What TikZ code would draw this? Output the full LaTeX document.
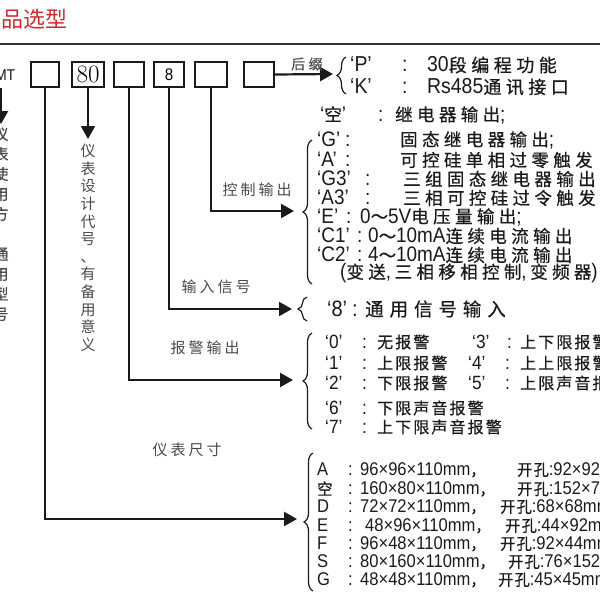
\documentclass[tikz,border=0pt]{standalone}
\usepackage{fontspec}
\usetikzlibrary{arrows.meta,decorations.pathreplacing}
\newfontfamily\cjkA[LetterSpace=25,FakeBold=0.6]{Noto Sans CJK SC}
\newfontfamily\cjkW[LetterSpace=32,FakeBold=0.6]{Noto Sans CJK SC}
\newfontfamily\cjkM[LetterSpace=13,FakeBold=0.5]{Noto Sans CJK SC}
\newfontfamily\cjkL[LetterSpace=20]{Noto Sans CJK SC}
\newfontfamily\cjkB{Noto Sans CJK SC}
\newfontfamily\cjkN[FakeStretch=0.95,LetterSpace=8,FakeBold=0.4]{Noto Sans CJK SC}
\newfontfamily\latA[Scale=1.2,FakeStretch=0.9]{Liberation Sans}
\newfontfamily\latN[Scale=1.15,FakeStretch=0.9]{Liberation Sans}
\def\cjkf{\cjkA}\def\latf{\latA}
\newXeTeXintercharclass\CJKcls
\newcount\cjkc
\cjkc=0
\loop\ifnum\cjkc<"3000 \XeTeXcharclass\cjkc=0 \advance\cjkc by 1 \repeat
\cjkc="3000
\loop\ifnum\cjkc<"A000 \XeTeXcharclass\cjkc=\CJKcls \advance\cjkc by 1 \repeat
\cjkc="FF00
\loop\ifnum\cjkc<"FFF0 \XeTeXcharclass\cjkc=\CJKcls \advance\cjkc by 1 \repeat
\XeTeXinterchartoks 0 \CJKcls = {\cjkf}
\XeTeXinterchartoks 4095 \CJKcls = {\cjkf}
\XeTeXinterchartoks \CJKcls 0 = {\latf}
\XeTeXinterchartoks 4095 0 = {\latf}
\XeTeXinterchartokenstate=1
\definecolor{ink}{HTML}{1A1A1A}
\definecolor{lblgray}{HTML}{4A4A4A}
\definecolor{titlered}{HTML}{D02A30}
\definecolor{rulegray}{HTML}{333333}
\tikzset{
  slot/.style={draw=ink, line width=2.3pt, minimum height=25pt, inner sep=0pt},
  conn/.style={draw=ink, line width=2.2pt, -{Triangle[length=13pt,width=14pt]}},
  brc/.style={decorate, decoration={brace, amplitude=9pt}, draw=ink, line width=1.2pt},
  lbl/.style={text=lblgray, inner sep=0pt, font=\fontsize{15}{15}\selectfont\def\cjkf{\cjkL}},
  vlbl/.style={text=lblgray, inner sep=0pt, align=center, font=\fontsize{15}{17.6}\selectfont\def\cjkf{\cjkB}},
  rowpk/.style={text=ink, inner sep=0pt, font=\fontsize{18}{18}\selectfont},
  rowin/.style={text=ink, inner sep=0pt, font=\fontsize{18.5}{18.5}\selectfont\def\cjkf{\cjkW}},
  rowc/.style={text=ink, inner sep=0pt, font=\fontsize{17.5}{17.5}\selectfont},
  rowa/.style={text=ink, inner sep=0pt, font=\fontsize{16}{16}\selectfont\def\cjkf{\cjkM}},
  rows/.style={text=ink, inner sep=0pt, font=\fontsize{16}{16}\selectfont\def\cjkf{\cjkN}\def\latf{\latN}},
}
% name, y, xkey, xcolon, xvalue, key, value, style
\newcommand\kv[8]{\node[#8,anchor=west] (#1) at (#3,#2) {\makebox[\dimexpr#4pt-#3pt\relax][l]{#6}\makebox[\dimexpr#5pt-#4pt\relax][l]{:}#7};}
% name, y, key, xvalue, dims, xhole, hole
\newcommand\sz[7]{\node[rows,anchor=west] (#1) at (317,#2) {\makebox[31pt][l]{#3}\makebox[\dimexpr#4pt-348pt\relax][l]{:}\makebox[\dimexpr#6pt-#4pt\relax][l]{#5，}开孔:#7};}
\begin{document}
\begin{tikzpicture}[x=1pt,y=-1pt]
\useasboundingbox (0,0) rectangle (600,600);
\clip (0,0) rectangle (600,600);
% title and rule
\node[anchor=west, inner sep=0pt, text=titlered, font=\fontsize{22}{22}\selectfont\def\cjkf{\cjkB}] (title) at (1,19) {品选型};
\coordinate (rl) at (0,43.5);
\coordinate (rr) at (600,43.5);
\draw[rulegray, line width=2pt] (rl) -- (rr);
% model code
\node[anchor=east, inner sep=0pt, text=ink, font=\fontsize{13}{13}\selectfont] (mt) at (15.5,75) {XMT};
\node[slot, minimum width=28pt] (b1) at (45,74.5) {};
\node[slot, minimum width=32pt, font=\fontsize{25}{25}\selectfont] (b2) at (88,74.5) {\XeTeXinterchartokenstate=0 \rmfamily 80};
\node[slot, minimum width=30pt] (b3) at (129,74.5) {};
\node[slot, minimum width=30pt, font=\fontsize{14}{14}\selectfont] (b4) at (169,74.5) {8};
\node[slot, minimum width=32pt] (b5) at (211,74.5) {};
\node[slot, minimum width=30pt] (b6) at (259,74.5) {};
% suffix
\coordinate (sfin) at (333,74);
\draw[conn] (b6.east) -- (sfin);
\node[lbl, font=\fontsize{14}{14}\selectfont] (sflbl) at (307,64) {后缀};
\draw[brc] (346,94) -- (346,57);
\kv{rp}{65}{350}{402}{427}{‘P’}{30段编程功能}{rowpk}
\kv{rk}{87}{350}{402}{427}{‘K’}{Rs485通讯接口}{rowpk}
% design code
\coordinate (dsgtip) at (88,139);
\draw[conn] (b2.south) -- (dsgtip);
\node[vlbl, anchor=north] (dsg) at (88,144) {仪\\表\\设\\计\\代\\号\\、\\有\\备\\用\\意\\义};
% left cut-off column
\coordinate (lvtop) at (1,88);
\coordinate (lvtip) at (1,124);
\draw[conn] (lvtop) -- (lvtip);
\node[vlbl, anchor=north, font=\fontsize{15}{20}\selectfont] (lv) at (1,127) {仪\\表\\使\\用\\方\\、\\通\\用\\型\\号};
% control output
\coordinate (ctlin) at (294,211);
\draw[conn] (b5.south) |- (ctlin);
\node[lbl] (ctllbl) at (257,190) {控制输出};
\draw[brc] (312,284) -- (312,140);
\kv{c0}{115}{320}{378}{395}{‘空’}{继电器输出;}{rowc}
\kv{c1}{140}{317}{345}{400}{‘G’}{固态继电器输出;}{rowc}
\kv{c2}{160}{317}{345}{400}{‘A’}{可控硅单相过零触发}{rowc}
\kv{c3}{179}{317}{365}{403}{‘G3’}{三组固态继电器输出}{rowc}
\kv{c4}{198}{317}{365}{403}{‘A3’}{三相可控硅过令触发}{rowc}
\kv{c5}{217}{317}{346}{360}{‘E’}{0～5V电压量输出;}{rowc}
\kv{c6}{236}{317}{357}{368}{‘C1’}{0～10mA连续电流输出}{rowc}
\kv{c7}{255}{317}{357}{368}{‘C2’}{4～10mA连续电流输出}{rowc}
\node[rowc, anchor=west] (c8) at (340,273) {(变送,\,三相移相控制,\,变频器)};
% input signal
\coordinate (inpin) at (292,309);
\draw[conn] (b4.south) |- (inpin);
\node[lbl] (inplbl) at (216,287) {输入信号};
\draw[brc] (307,321) -- (307,297);
\kv{i8}{309}{327}{352}{365}{‘8’}{通用信号输入}{rowin}
% alarm output
\coordinate (alin) at (293,380);
\draw[conn] (b3.south) |- (alin);
\node[lbl] (allbl) at (205,348) {报警输出};
\draw[brc] (312,429) -- (312,333);
\kv{a0}{342}{325}{362}{377}{‘0’}{无报警}{rowa}
\kv{a1}{363}{325}{362}{377}{‘1’}{上限报警}{rowa}
\kv{a2}{383}{325}{362}{377}{‘2’}{下限报警}{rowa}
\kv{a6}{408}{325}{362}{377}{‘6’}{下限声音报警}{rowa}
\kv{a7}{427}{325}{362}{377}{‘7’}{上下限声音报警}{rowa}
\kv{a3}{342}{472}{507}{520}{‘3’}{上下限报警}{rowa}
\kv{a4}{363}{468}{505}{520}{‘4’}{上上限报警}{rowa}
\kv{a5}{383}{468}{505}{520}{‘5’}{上限声音报警}{rowa}
% size
\coordinate (szin) at (297,519);
\draw[conn] (b1.south) |- (szin);
\node[lbl] (szlbl) at (187,450) {仪表尺寸};
\draw[brc] (313,591) -- (313,453);
\sz{s1}{470}{A}{360}{96×96×110mm}{517}{92×92mm}
\sz{s2}{489}{空}{360}{160×80×110mm}{517}{152×76mm}
\sz{s3}{507}{D}{360}{72×72×110mm}{500}{68×68mm}
\sz{s4}{526}{E}{365}{48×96×110mm}{505}{44×92mm}
\sz{s5}{544}{F}{360}{96×48×110mm}{500}{92×44mm}
\sz{s6}{562}{S}{360}{80×160×110mm}{508}{76×152mm}
\sz{s7}{580}{G}{360}{48×48×110mm}{498}{45×45mm}
\end{tikzpicture}
\end{document}
